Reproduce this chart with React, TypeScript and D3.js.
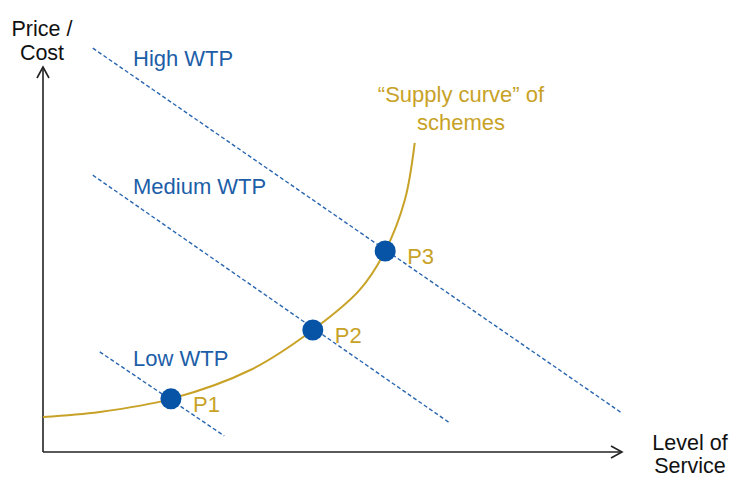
import React from 'react';
import * as d3 from 'd3';

// chart values, in abstract units (0-100 on both axes)
const wtpNames = ['High WTP', 'Medium WTP', 'Low WTP'];
const wtpStart = [[8.6, 104.9], [8.6, 71.9], [9.8, 26.0]];
const wtpEnd = [[100, 10.1], [70.3, 7.5], [31.3, 4.2]];
const supplyCurve = [
  [0, 9.1], [9.8, 10.4], [22.1, 13.8], [35.8, 21.3], [46.6, 31.7],
  [54.7, 42.1], [59.1, 52.2], [62.5, 65.5], [64.2, 80.3]
];
const pointNames = ['P1', 'P2', 'P3'];
const pointValues = [[22.1, 13.8], [46.6, 31.7], [59.1, 52.2]];

const W = 731, H = 478;
const BLUE = '#2a66b0';
const LABEL_BLUE = '#1d5ea8';
const DOT = '#0753a5';
const GOLD = '#c8a227';
const FONT = 'Liberation Sans, Arial, sans-serif';

export default function App() {
  const x = d3.scaleLinear().domain([0, 100]).range([43, 622]);
  const y = d3.scaleLinear().domain([0, 100]).range([452, 67]);

  const supplyLine = d3.line<number[]>()
    .x(d => x(d[0]))
    .y(d => y(d[1]))
    .curve(d3.curveCatmullRom.alpha(0.5));

  const x0 = x(0), y0 = y(0), xTip = x(100), yTip = y(100);

  return (
    <svg width={W} height={H} style={{ position: 'absolute', left: 0, top: 0 }} fontFamily={FONT}>
      {/* axes */}
      <line x1={x0} y1={y0} x2={x0} y2={yTip} stroke="#222" strokeWidth={1.6} />
      <line x1={x0} y1={y0} x2={xTip} y2={y0} stroke="#222" strokeWidth={1.6} />
      <path d={`M${x0 - 6},${yTip + 11}L${x0},${yTip}L${x0 + 6},${yTip + 11}`} fill="none" stroke="#222" strokeWidth={1.6} />
      <path d={`M${xTip - 11},${y0 - 6}L${xTip},${y0}L${xTip - 11},${y0 + 6}`} fill="none" stroke="#222" strokeWidth={1.6} />

      <text x={42} y={36} textAnchor="middle" fontSize={21.5} fill="#111">
        <tspan x={42}>Price /</tspan>
        <tspan x={42} dy={24}>Cost</tspan>
      </text>
      <text x={690} y={450} textAnchor="middle" fontSize={21.5} fill="#111">
        <tspan x={690}>Level of</tspan>
        <tspan x={690} dy={23}>Service</tspan>
      </text>

      {/* willingness-to-pay lines */}
      {wtpNames.map((n, i) => (
        <g key={n}>
          <line x1={x(wtpStart[i][0])} y1={y(wtpStart[i][1])} x2={x(wtpEnd[i][0])} y2={y(wtpEnd[i][1])}
            stroke={BLUE} strokeWidth={1.4} strokeDasharray="4,2.5" />
          <text x={133} y={[66, 194, 366][i]} fontSize={22} fill={LABEL_BLUE}>{n}</text>
        </g>
      ))}

      {/* supply curve */}
      <path d={supplyLine(supplyCurve) || ''} fill="none" stroke={GOLD} strokeWidth={2} />
      <text x={461} y={102} textAnchor="middle" fontSize={22} fill={GOLD}>
        <tspan x={461}>“Supply curve” of</tspan>
        <tspan x={461} dy={28}>schemes</tspan>
      </text>

      {/* equilibrium points */}
      {pointNames.map((n, i) => (
        <g key={n}>
          <circle cx={x(pointValues[i][0])} cy={y(pointValues[i][1])} r={10.5} fill={DOT} />
          <text x={x(pointValues[i][0]) + 22} y={y(pointValues[i][1]) + 13} fontSize={22} fill={GOLD}>{n}</text>
        </g>
      ))}
    </svg>
  );
}
